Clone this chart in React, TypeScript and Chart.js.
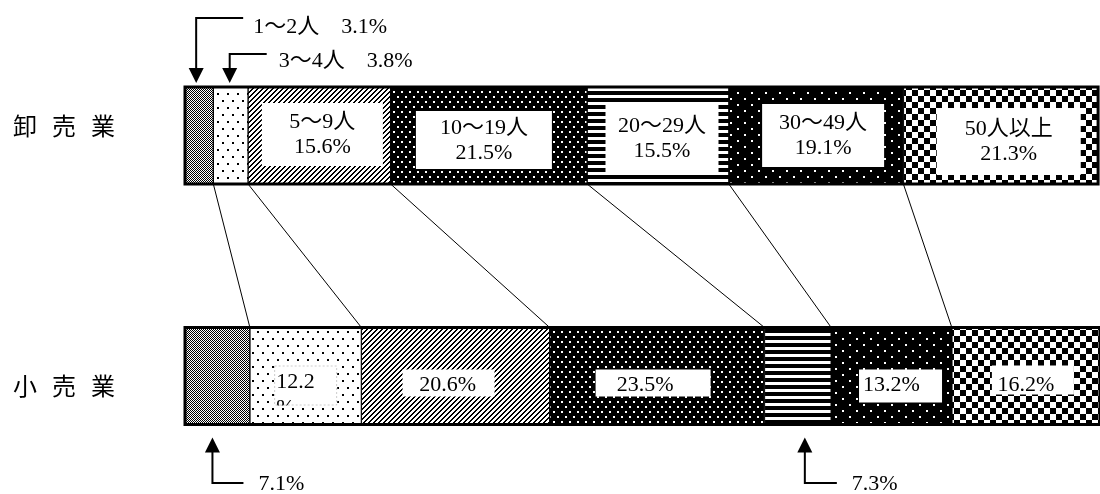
import React, { useEffect, useRef } from 'react';
import { Chart, registerables } from 'chart.js';

Chart.register(...registerables);

// ---------- data ----------
const categories = ['卸売業', '小売業'];
const sizeClasses = ['1〜2人', '3〜4人', '5〜9人', '10〜19人', '20〜29人', '30〜49人', '50人以上'];
const wholesaleShares = [3.1, 3.8, 15.6, 21.5, 15.5, 19.1, 21.3];
const retailShares = [7.1, 12.2, 20.6, 23.5, 7.3, 13.2, 16.2];
const xRange = [0, 100];

// ---------- layout / style ----------
const FONT = '"Liberation Serif", "Noto Sans CJK JP", serif';
const CJK_FONT = '"Noto Sans CJK JP", sans-serif';
const TEXT_SIZE = 22;

type Box = { dx: number; w: number; t: number; b: number; tx?: number; left?: boolean } | null;
const topBoxes: Box[] = [
  null,
  null,
  { dx: 3, w: 121, t: 16, b: 79 },
  { dx: -5, w: 136, t: 24, b: 82 },
  { dx: 4, w: 113, t: 18, b: 85 },
  { dx: 7, w: 122, t: 17, b: 80 },
  { dx: 8, w: 144, t: 21, b: 88 },
];
const bottomBoxes: Box[] = [
  null,
  { dx: 0, w: 63, t: 38, b: 78, left: true },
  { dx: -7, w: 92, t: 42, b: 69, tx: -8 },
  { dx: -4, w: 115, t: 42, b: 69, tx: -12 },
  null,
  { dx: 9, w: 83, t: 42, b: 75, tx: 0 },
  { dx: 7, w: 82, t: 38, b: 67, tx: 0 },
];

function tile(w: number, h: number, black: (x: number, y: number) => boolean) {
  const c = document.createElement('canvas');
  c.width = w;
  c.height = h;
  const g = c.getContext('2d')!;
  const im = g.createImageData(w, h);
  for (let y = 0; y < h; y++) {
    for (let x = 0; x < w; x++) {
      const v = black(x, y) ? 0 : 255;
      const i = (y * w + x) * 4;
      im.data[i] = v;
      im.data[i + 1] = v;
      im.data[i + 2] = v;
      im.data[i + 3] = 255;
    }
  }
  g.putImageData(im, 0, 0);
  return c;
}

function makePatterns(ctx: CanvasRenderingContext2D): (CanvasPattern | string)[] {
  const tiles = [
    tile(2, 2, (x, y) => (x + y) % 2 === 0),
    tile(10, 14, (x, y) => (x >= 2 && x <= 3 && y >= 2 && y <= 3) || (x >= 7 && x <= 8 && y >= 9 && y <= 10)),
    tile(5, 5, (x, y) => (x + y) % 5 < 2),
    tile(8, 10, (x, y) => !((x >= 1 && x <= 2 && y >= 1 && y <= 2) || (x >= 5 && x <= 6 && y >= 6 && y <= 7))),
    tile(1, 7, (_x, y) => y < 4),
    tile(14, 12, (x, y) => !((x >= 2 && x <= 3 && y >= 2 && y <= 3) || (x >= 9 && x <= 10 && y >= 8 && y <= 9))),
    tile(12, 12, (x, y) => (x < 6) !== (y < 6)),
  ];
  return tiles.map((t) => ctx.createPattern(t, 'repeat') || '#888');
}

function arrow(ctx: CanvasRenderingContext2D, x: number, tipY: number, dir: 1 | -1) {
  const head = 15;
  ctx.beginPath();
  ctx.moveTo(x, tipY);
  ctx.lineTo(x - 7.5, tipY - dir * head);
  ctx.lineTo(x + 7.5, tipY - dir * head);
  ctx.closePath();
  ctx.fill();
}

const overlayPlugin = {
  id: 'overlay',
  afterDatasetsDraw(chart: any) {
    const ctx: CanvasRenderingContext2D = chart.ctx;
    const n = sizeClasses.length;
    const el = (ds: number, row: number) => chart.getDatasetMeta(ds).data[row] as any;
    const rows = [wholesaleShares, retailShares];
    ctx.save();

    // outline of each bar
    ctx.strokeStyle = '#000';
    ctx.lineWidth = 3;
    for (let r = 0; r < 2; r++) {
      const a = el(0, r);
      const b = el(n - 1, r);
      ctx.strokeRect(a.base, a.y - a.height / 2, b.x - a.base, a.height);
    }

    // connecting lines
    ctx.lineWidth = 1;
    for (let i = 0; i < n - 1; i++) {
      const t = el(i, 0);
      const b = el(i, 1);
      ctx.beginPath();
      ctx.moveTo(t.x, t.y + t.height / 2);
      ctx.lineTo(b.x, b.y - b.height / 2);
      ctx.stroke();
    }

    // label boxes
    ctx.font = `${TEXT_SIZE}px ${FONT}`;
    ctx.textBaseline = 'middle';
    for (let r = 0; r < 2; r++) {
      const boxes = r === 0 ? topBoxes : bottomBoxes;
      for (let i = 0; i < n; i++) {
        const bx = boxes[i];
        if (!bx) continue;
        const e = el(i, r);
        const cx = (e.base + e.x) / 2;
        const top = e.y - e.height / 2;
        const left = cx + bx.dx - bx.w / 2;
        const y0 = top + bx.t;
        const h = bx.b - bx.t;
        ctx.fillStyle = '#fff';
        ctx.fillRect(left, y0, bx.w, h);
        ctx.fillStyle = '#000';
        const pct = `${rows[r][i].toFixed(1)}%`;
        if (r === 0) {
          const mid = y0 + h / 2;
          ctx.textAlign = 'center';
          ctx.fillText(sizeClasses[i], left + bx.w / 2, mid - 12);
          ctx.fillText(pct, left + bx.w / 2, mid + 13);
        } else if (bx.left) {
          ctx.save();
          ctx.strokeStyle = '#ccc';
          ctx.setLineDash([2, 2]);
          ctx.strokeRect(left + 0.5, y0 + 0.5, bx.w - 1, h - 1);
          ctx.beginPath();
          ctx.rect(left, y0, bx.w, h);
          ctx.clip();
          ctx.textAlign = 'left';
          ctx.fillText(rows[r][i].toFixed(1), left + 2, top + 55);
          ctx.fillText('%', left + 2, top + 81);
          ctx.restore();
        } else {
          ctx.textAlign = 'center';
          ctx.fillText(pct, cx + (bx.tx || 0), top + 58);
        }
      }
    }

    // annotations with arrows
    ctx.fillStyle = '#000';
    ctx.strokeStyle = '#000';
    ctx.lineWidth = 2;
    ctx.textAlign = 'left';
    const topAnn = [
      { seg: 0, dx: -3, lineY: 18, lineLen: 47, textGap: 57, textY: 27 },
      { seg: 1, dx: -1, lineY: 54, lineLen: 37, textGap: 49, textY: 61 },
    ];
    for (const a of topAnn) {
      const e = el(a.seg, 0);
      const ax = (e.base + e.x) / 2 + a.dx;
      const tip = e.y - e.height / 2 - 4;
      ctx.beginPath();
      ctx.moveTo(ax + a.lineLen, a.lineY);
      ctx.lineTo(ax, a.lineY);
      ctx.lineTo(ax, tip - 10);
      ctx.stroke();
      arrow(ctx, ax, tip, 1);
      ctx.fillText(`${sizeClasses[a.seg]}\u3000${wholesaleShares[a.seg].toFixed(1)}%`, ax + a.textGap, a.textY);
    }
    const botAnn = [
      { seg: 0, dx: -5, lineLen: 31, textGap: 46 },
      { seg: 4, dx: 7, lineLen: 32, textGap: 47 },
    ];
    for (const a of botAnn) {
      const e = el(a.seg, 1);
      const ax = (e.base + e.x) / 2 + a.dx;
      const tip = e.y + e.height / 2 + 13;
      const ly = 483;
      ctx.beginPath();
      ctx.moveTo(ax, tip + 10);
      ctx.lineTo(ax, ly);
      ctx.lineTo(ax + a.lineLen, ly);
      ctx.stroke();
      arrow(ctx, ax, tip, -1);
      ctx.fillText(`${retailShares[a.seg].toFixed(1)}%`, ax + a.textGap, ly + 1);
    }

    // category labels
    ctx.font = `24px ${CJK_FONT}`;
    const yScale = chart.scales.y;
    categories.forEach((cat, r) => {
      const cy = yScale.getPixelForValue(r) + (r === 0 ? -10 : 10);
      cat.split('').forEach((ch, k) => {
        ctx.fillText(ch, 13 + k * 39, cy);
      });
    });

    ctx.restore();
  },
};

export default function App() {
  const ref = useRef<HTMLCanvasElement>(null);
  useEffect(() => {
    document.body.style.margin = '0';
    const canvas = ref.current!;
    const ctx = canvas.getContext('2d')!;
    const patterns = makePatterns(ctx);
    const chart = new Chart(canvas, {
      type: 'bar',
      data: {
        labels: categories,
        datasets: sizeClasses.map((name, i) => ({
          label: name,
          data: [wholesaleShares[i], retailShares[i]],
          backgroundColor: patterns[i] as any,
          borderColor: '#000',
          borderWidth: 1,
          borderSkipped: false,
          barThickness: 97,
          clip: false as any,
        })),
      },
      options: {
        indexAxis: 'y',
        responsive: false,
        animation: false,
        layout: { padding: { left: 185, right: 1, top: 135.5, bottom: 118 } },
        scales: {
          x: { stacked: true, min: xRange[0], max: xRange[1], display: false },
          y: { stacked: true, offset: false, display: false },
        },
        plugins: { legend: { display: false }, tooltip: { enabled: false } },
      },
      plugins: [overlayPlugin],
    });
    return () => chart.destroy();
  }, []);
  return (
    <div style={{ width: 1100, height: 494, background: '#fff' }}>
      <canvas ref={ref} width={1100} height={494} style={{ display: 'block' }} />
    </div>
  );
}
